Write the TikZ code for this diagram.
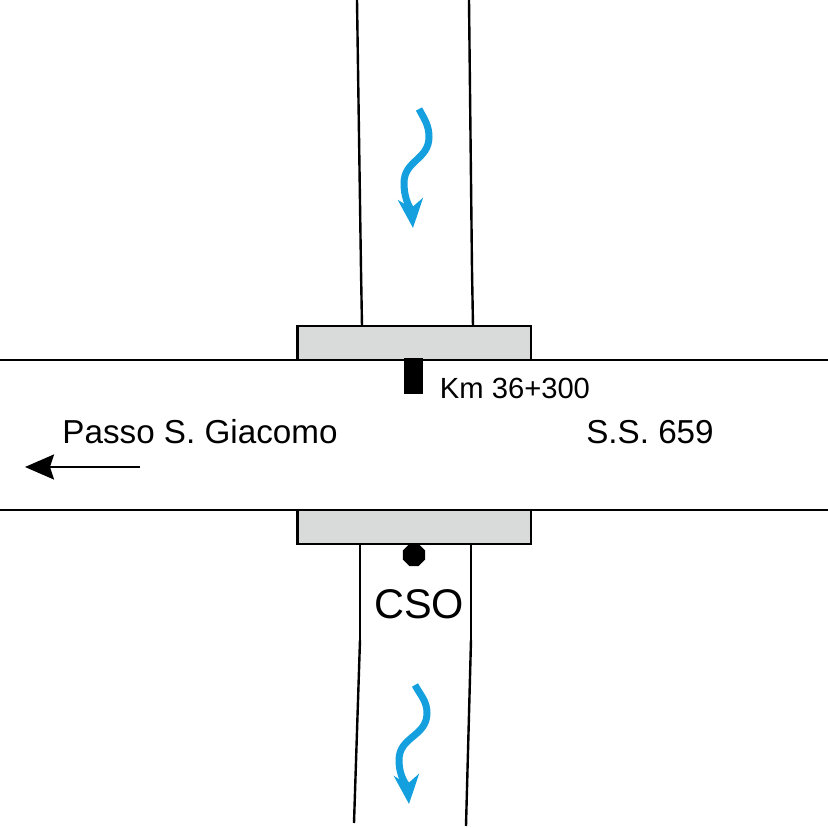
\documentclass[tikz,border=0pt]{standalone}
\usepackage{fontspec}
\setmainfont{Liberation Sans}
\usetikzlibrary{arrows.meta,shapes.geometric}
\pgfdeclarelayer{edgelayer}
\pgfdeclarelayer{nodelayer}
\pgfsetlayers{edgelayer,nodelayer,main}
\definecolor{deckgray}{RGB}{217,219,218}
\definecolor{flowblue}{RGB}{20,160,222}
\tikzstyle{none}=[inner sep=0pt]
\tikzstyle{Black Line}=[-, draw=black, line width=0.024cm]
\tikzstyle{Bridge Deck}=[fill=deckgray, draw=black, line width=0.024cm, shape=rectangle, minimum width=2.335cm, minimum height=0.34cm, inner sep=0pt, outer sep=0pt]
\tikzstyle{Sensor Bar}=[fill=black, shape=rectangle, minimum width=0.19cm, minimum height=0.36cm, inner sep=0pt]
\tikzstyle{Sensor Dot}=[fill=black, shape=regular polygon, regular polygon sides=8, minimum size=0.24cm, inner sep=0pt]
\tikzstyle{Small Text}=[inner sep=0pt, font=\fontsize{8.3}{10}\selectfont]
\tikzstyle{Road Text}=[inner sep=0pt, font=\fontsize{9.45}{11}\selectfont]
\tikzstyle{Big Text}=[inner sep=0pt, font=\fontsize{11.8}{14}\selectfont]
\tikzstyle{Direction}=[draw=black, line width=0.024cm, -{Stealth[length=0.29cm,width=0.25cm,inset=0.04cm]}]
\tikzstyle{Flow}=[draw=flowblue, line width=0.07cm, -{Stealth[length=0.29cm,width=0.25cm,inset=0.09cm]}]
\begin{document}
\begin{tikzpicture}
	\useasboundingbox (0, 0) rectangle (8.28, 8.28);
	\begin{pgfonlayer}{nodelayer}
		\node [style=none] (0) at (0, 4.68) {};
		\node [style=none] (1) at (8.28, 4.68) {};
		\node [style=none] (2) at (0, 3.18) {};
		\node [style=none] (3) at (8.28, 3.18) {};
		\node [style=none] (4) at (3.57, 8.28) {};
		\node [style=none] (5) at (3.61, 5.58) {};
		\node [style=none] (6) at (3.62, 5.02) {};
		\node [style=none] (7) at (4.69, 8.28) {};
		\node [style=none] (8) at (4.72, 5.58) {};
		\node [style=none] (9) at (4.73, 5.02) {};
		\node [style=none] (10) at (3.60, 2.84) {};
		\node [style=none] (11) at (3.60, 1.88) {};
		\node [style=none] (12) at (3.54, 0.05) {};
		\node [style=none] (13) at (4.71, 2.84) {};
		\node [style=none] (14) at (4.71, 1.88) {};
		\node [style=none] (15) at (4.66, 0.02) {};
		\node [style=Bridge Deck] (16) at (4.1425, 4.85) {};
		\node [style=Bridge Deck] (17) at (4.1425, 3.01) {};
		\node [style=Sensor Bar] (18) at (4.135, 4.52) {};
		\node [style=Sensor Dot] (19) at (4.14, 2.73) {};
		\node [style=Small Text] (20) at (5.15, 4.40) {Km 36+300};
		\node [style=Road Text] (21) at (2.00, 3.96) {Passo S. Giacomo};
		\node [style=Road Text] (22) at (6.50, 3.96) {S.S. 659};
		\node [style=Big Text] (23) at (4.19, 2.24) {CSO};
		\node [style=none] (24) at (1.40, 3.61) {};
		\node [style=none] (25) at (0.25, 3.61) {};
		\node [style=none] (26) at (4.19, 7.19) {};
		\node [style=none] (27) at (4.29, 6.91) {};
		\node [style=none] (28) at (4.04, 6.45) {};
		\node [style=none] (29) at (4.13, 6.00) {};
		\node [style=none] (30) at (4.15, 1.43) {};
		\node [style=none] (31) at (4.27, 1.15) {};
		\node [style=none] (32) at (3.99, 0.68) {};
		\node [style=none] (33) at (4.09, 0.24) {};
	\end{pgfonlayer}
	\begin{pgfonlayer}{edgelayer}
		\draw [style=Black Line] (0.center) to (1.center);
		\draw [style=Black Line] (2.center) to (3.center);
		\draw [style=Black Line] (4.center) to (5.center);
		\draw [style=Black Line] (5.center) to (6.center);
		\draw [style=Black Line] (7.center) to (8.center);
		\draw [style=Black Line] (8.center) to (9.center);
		\draw [style=Black Line] (10.center) to (11.center);
		\draw [style=Black Line] (11.center) to (12.center);
		\draw [style=Black Line] (13.center) to (14.center);
		\draw [style=Black Line] (14.center) to (15.center);
		\draw [style=Direction] (24.center) to (25.center);
		\draw [style=Flow] (26.center) to [out=-62, in=90] (27.center) to [out=-90, in=90, looseness=1.1] (28.center) to [out=-90, in=95] (29.center);
		\draw [style=Flow] (30.center) to [out=-62, in=90] (31.center) to [out=-90, in=90, looseness=1.1] (32.center) to [out=-90, in=95] (33.center);
	\end{pgfonlayer}
\end{tikzpicture}
\end{document}
